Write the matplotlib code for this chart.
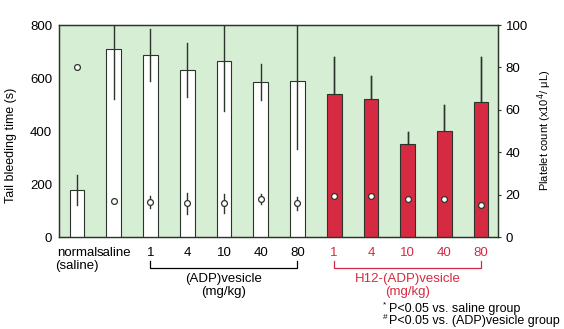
import matplotlib
matplotlib.use("Agg")
import matplotlib.pyplot as plt
import numpy as np

plt.rcParams["font.family"] = ["Liberation Sans", "DejaVu Sans"]

# groups: normal, saline, (ADP)vesicle 1-80, H12-(ADP)vesicle 1-80
tick_labels = ["normal", "saline", "1", "4", "10", "40", "80",
               "1", "4", "10", "40", "80"]
bleed_mean = [178, 710, 687, 630, 664, 585, 589, 540, 521, 351, 400, 509]
bleed_sd = [56, 190, 97, 103, 190, 68, 257, 139, 87, 45, 98, 170]
platelet_mean = [80, 17.1, 16.5, 15.9, 15.9, 17.9, 15.9, 19.3, 19.3, 17.9, 18.0, 14.9]
platelet_sd = [0, 0, 3, 5, 4.5, 2.5, 3, 0, 0, 0, 0, 0]
is_h12 = [False] * 7 + [True] * 5

bg = "#d6eed3"
red = "#d62a42"
dark = "#2b352b"

fig = plt.figure(figsize=(5.64, 3.29), dpi=100)
ax = fig.add_axes([0.1046, 0.2796, 0.7784, 0.6444])
ax.set_facecolor(bg)

x = np.arange(len(tick_labels))
for xi, m, s, h in zip(x, bleed_mean, bleed_sd, is_h12):
    ax.bar(xi, m, width=0.4, color=red if h else "white", edgecolor=dark,
           linewidth=0.8, zorder=3)
    ax.plot([xi, xi], [m - s, m + s], color=dark, lw=1.0,
            zorder=2 if h else 4)
    if h:
        ax.plot([xi, xi], [m, m + s], color=dark, lw=1.0, zorder=4)

ax.set_xlim(-0.49, 11.46)
ax.set_ylim(0, 800)
ax.set_yticks([0, 200, 400, 600, 800])
ax.set_xticks([])
ax.set_ylabel("Tail bleeding time (s)", fontsize=9)
ax.yaxis.set_label_coords(-0.095, 0.43)
ax.tick_params(axis="y", labelsize=9.5, length=0, pad=5)
for sp in ax.spines.values():
    sp.set_color(dark)
    sp.set_linewidth(0.9)

ax2 = ax.twinx()
ax2.set_ylim(0, 100)
ax2.set_yticks([0, 20, 40, 60, 80, 100])
ax2.tick_params(axis="y", labelsize=9.5, length=2, direction="out", color=dark)
ax2.set_ylabel("Platelet count (x10$^4$/ μL)", fontsize=8)
ax2.yaxis.set_label_coords(1.085, 0.505)
for sp in ax2.spines.values():
    sp.set_color(dark)
    sp.set_linewidth(0.9)
for xi, m, s in zip(x, platelet_mean, platelet_sd):
    if s > 0:
        ax2.plot([xi, xi], [m - s, m + s], color=dark, lw=1.0, zorder=5)
    ax2.plot(xi, m, "o", ms=4.2, mfc="white", mec=dark, mew=0.9, zorder=6)

# category labels below the axis
tr = ax.get_xaxis_transform()
for xi, lab, h in zip(x, tick_labels, is_h12):
    ax.text(xi, -0.045, lab, transform=tr, ha="center", va="top", fontsize=9.5,
            color=red if h else "black")
ax.text(0, -0.11, "(saline)", transform=tr, ha="center", va="top", fontsize=9.5)


def bracket(x0, x1, color, title, ty):
    y_top, y_bot = -0.115, -0.145
    ax.plot([x0, x0, x1, x1], [y_top, y_bot, y_bot, y_top], transform=tr,
            color=color, lw=0.9, clip_on=False)
    ax.text((x0 + x1) / 2, ty, title + "\n(mg/kg)", transform=tr,
            ha="center", va="top", fontsize=9.5, color=color, linespacing=1.1)


bracket(2, 6, "black", "(ADP)vesicle", -0.17)
bracket(7, 11, red, "H12-(ADP)vesicle", -0.172)

# footnotes with small raised markers
for y, mark, note in [(0.061, "*", "P<0.05 vs. saline group"),
                      (0.024, "#", "P<0.05 vs. (ADP)vesicle group")]:
    fig.text(0.679, y + 0.012, mark, fontsize=6, va="center", ha="left")
    fig.text(0.689, y, note, fontsize=9, va="center", ha="left")

fig.savefig("out.png", dpi=100)
